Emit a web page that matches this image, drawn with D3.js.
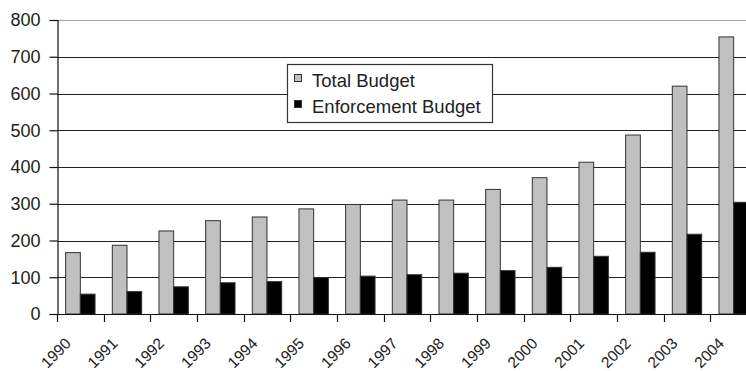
<!DOCTYPE html>
<html>
<head>
<meta charset="utf-8">
<script src="https://cdn.jsdelivr.net/npm/d3@7"></script>
<style>
  html, body { margin: 0; padding: 0; background: #fff; }
  svg { display: block; font-family: "Liberation Sans", Arial, sans-serif; }
</style>
</head>
<body>
<svg id="chart" width="746" height="371"></svg>
<script>
// Budget by year (millions)
const years = ["1990","1991","1992","1993","1994","1995","1996","1997","1998","1999","2000","2001","2002","2003","2004"];
const totalBudget = [167, 187, 226, 254, 264, 286, 298, 310, 310, 339, 371, 413, 487, 620, 754];
const enforcementBudget = [54, 61, 74, 85, 88, 99, 103, 107, 111, 118, 127, 157, 168, 217, 304];
const seriesNames = ["Total Budget", "Enforcement Budget"];
const seriesColors = ["#c0c0c0", "#000000"];
const yTicks = [0, 100, 200, 300, 400, 500, 600, 700, 800];

const svg = d3.select("#chart");
const plotLeft = 57, plotRight = 757, plotTop = 20, plotBottom = 314;

const x = d3.scaleBand().domain(years).range([plotLeft, plotRight]).padding(0);
const groupFrac = 0.63;
const sub = d3.scaleBand().domain(seriesNames).range([0, groupFrac * x.bandwidth()]);
const subOffset = (x.bandwidth() - groupFrac * x.bandwidth()) / 2;
const y = d3.scaleLinear().domain([0, 800]).range([plotBottom, plotTop]);

// horizontal gridlines
svg.append("g").selectAll("line")
  .data(yTicks.filter(d => d > 0))
  .join("line")
  .attr("x1", plotLeft).attr("x2", plotRight)
  .attr("y1", d => Math.round(y(d)) + 0.5).attr("y2", d => Math.round(y(d)) + 0.5)
  .attr("stroke", d => d === 800 ? "#a0a0a0" : "#222")
  .attr("stroke-width", 1.2);

// bars
const series = [totalBudget, enforcementBudget];
const groups = svg.append("g").selectAll("g")
  .data(seriesNames)
  .join("g");
groups.each(function(name, si) {
  d3.select(this).selectAll("rect")
    .data(years.map((yr, i) => ({ yr, v: series[si][i] })))
    .join("rect")
    .attr("x", d => x(d.yr) + subOffset + sub(name))
    .attr("y", d => y(d.v))
    .attr("width", sub.bandwidth())
    .attr("height", d => y(0) - y(d.v))
    .attr("fill", seriesColors[si])
    .attr("stroke", "#333")
    .attr("stroke-width", 1);
});

// y axis
const yAxis = d3.axisLeft(y).tickValues(yTicks).tickSize(8).tickPadding(9).tickFormat(d3.format("d"));
const gy = svg.append("g").attr("transform", `translate(${plotLeft + 0.5},0)`).call(yAxis);
gy.select(".domain").attr("stroke", "#111").attr("stroke-width", 1.2);
gy.selectAll(".tick line").attr("stroke", "#111").attr("stroke-width", 1.2);
gy.selectAll(".tick text").attr("font-size", 18).attr("fill", "#222")
  .attr("font-family", "Liberation Sans, Arial, sans-serif");

// x axis baseline and category ticks
svg.append("line")
  .attr("x1", plotLeft).attr("x2", plotRight)
  .attr("y1", plotBottom + 0.5).attr("y2", plotBottom + 0.5)
  .attr("stroke", "#111").attr("stroke-width", 1.2);
svg.append("g").selectAll("line")
  .data(years)
  .join("line")
  .attr("x1", d => Math.round(x(d)) + 0.5).attr("x2", d => Math.round(x(d)) + 0.5)
  .attr("y1", plotBottom).attr("y2", plotBottom + 8)
  .attr("stroke", "#111").attr("stroke-width", 1.2);

// rotated year labels
svg.append("g").selectAll("text")
  .data(years)
  .join("text")
  .attr("transform", d => `translate(${x(d) + x.bandwidth() / 2 - 8.5},${plotBottom + 30.5}) rotate(-45)`)
  .attr("text-anchor", "end")
  .attr("font-size", 15.5)
  .attr("fill", "#222")
  .text(d => d);

// legend
const legend = svg.append("g");
legend.append("rect")
  .attr("x", 287.5).attr("y", 64.5).attr("width", 205).attr("height", 58)
  .attr("fill", "#fff").attr("stroke", "#333").attr("stroke-width", 1.2);
seriesNames.forEach((name, i) => {
  const yy = 74 + i * 26;
  legend.append("rect")
    .attr("x", 294.5).attr("y", yy + 0.5).attr("width", 7).attr("height", 7)
    .attr("fill", seriesColors[i]).attr("stroke", "#333").attr("stroke-width", 1);
  legend.append("text")
    .attr("x", 312).attr("y", yy + 12.7)
    .attr("font-size", 18.5).attr("fill", "#222")
    .text(name);
});
</script>
</body>
</html>
